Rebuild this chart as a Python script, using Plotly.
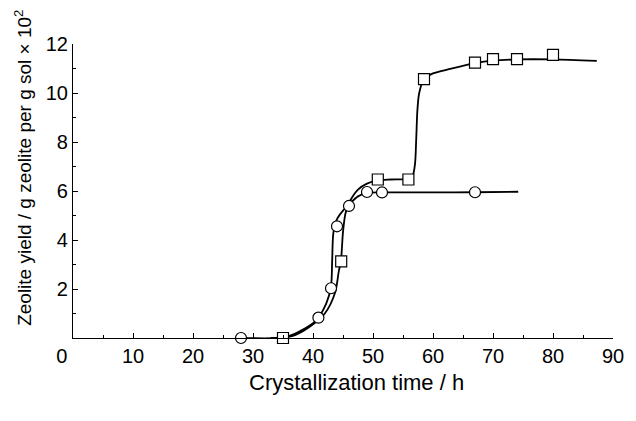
import plotly.graph_objects as go

sq_x = [35, 44.7, 50.8, 55.9, 58.5, 67, 70, 74, 80]
sq_y = [0.0, 3.13, 6.47, 6.47, 10.57, 11.24, 11.38, 11.38, 11.56]
ci_x = [28, 40.9, 43.0, 44.0, 46.0, 49.0, 51.5, 67]
ci_y = [0.0, 0.83, 2.03, 4.56, 5.39, 5.96, 5.94, 5.95]

# Fitted curves
sq_cx = [33, 35, 37, 39.8, 42.0, 43.7, 44.3, 44.65, 45.0, 45.4, 46.1, 47.5, 49.0, 50.75, 53, 55.9, 56.6, 57.0, 57.2, 57.4, 57.7, 58.5, 60, 62.8, 67, 70, 74, 80, 87.3]
sq_cy = [0.0, 0.02, 0.12, 0.52, 1.01, 1.87, 2.73, 3.13, 4.33, 5.07, 5.56, 6.06, 6.3, 6.43, 6.47, 6.5, 6.62, 7.1, 8.1, 9.3, 10.0, 10.57, 10.8, 10.98, 11.22, 11.32, 11.37, 11.37, 11.31]
ci_cx = [28, 34, 36, 38, 40, 40.9, 42.2, 43.0, 43.2, 43.4, 44.0, 45.0, 46.0, 47.5, 49.0, 52, 60, 67, 74.2]
ci_cy = [0.0, 0.0, 0.08, 0.3, 0.6, 0.83, 1.4, 2.1, 3.2, 4.3, 4.85, 5.2, 5.45, 5.78, 5.92, 5.94, 5.94, 5.95, 5.97]

x_ticks = [0, 10, 20, 30, 40, 50, 60, 70, 80, 90]
x_labels = ["0\u2007\u2007", "10", "20", "30", "40", "50", "60", "70", "80", "90"]
y_ticks = [2, 4, 6, 8, 10, 12]

FONT = "Liberation Sans, Arial, sans-serif"
fig = go.Figure()
line = dict(color="black", width=1.8, shape="spline", smoothing=0.8)
fig.add_trace(go.Scatter(x=ci_cx, y=ci_cy, mode="lines", line=line, cliponaxis=False, hoverinfo="skip"))
fig.add_trace(go.Scatter(x=sq_cx, y=sq_cy, mode="lines", line=line, cliponaxis=False, hoverinfo="skip"))
fig.add_trace(go.Scatter(x=ci_x, y=ci_y, mode="markers", cliponaxis=False,
                         marker=dict(symbol="circle", size=11, color="white", line=dict(color="black", width=1.2))))
fig.add_trace(go.Scatter(x=sq_x, y=sq_y, mode="markers", cliponaxis=False,
                         marker=dict(symbol="square", size=11, color="white", line=dict(color="black", width=1.2))))

# page body adds an 8px offset; figure sized to fit the 636x421 window
fig.update_layout(
    width=628, height=413,
    margin=dict(l=65, r=13, t=36, b=83),
    paper_bgcolor="white", plot_bgcolor="white",
    showlegend=False,
    font=dict(family=FONT, size=20, color="black"),
    xaxis=dict(range=[0, 90], tickvals=x_ticks, ticktext=x_labels,
               showline=True, linecolor="black", linewidth=1.2, ticks="inside", ticklen=5,
               tickcolor="black", showgrid=False, zeroline=False,
               minor=dict(dtick=5, tick0=0, ticks="inside", ticklen=3, tickcolor="black"),
               tickfont=dict(size=20)),
    yaxis=dict(range=[0, 12], tickvals=y_ticks, ticktext=[str(v) for v in y_ticks],
               showline=True, linecolor="black", linewidth=1.2, ticks="inside", ticklen=5,
               tickcolor="black", showgrid=False, zeroline=False,
               minor=dict(dtick=1, tick0=0, ticks="inside", ticklen=3, tickcolor="black"),
               tickfont=dict(size=20)),
    annotations=[
        dict(text="Crystallization time / h", x=0.525, y=-0.1497, xref="paper", yref="paper",
             showarrow=False, font=dict(size=22), xanchor="center", yanchor="middle"),
        dict(text="Zeolite yield / g zeolite per g sol × 10<sup>2</sup>", x=-0.093, y=0.578,
             xref="paper", yref="paper", showarrow=False, textangle=-90,
             font=dict(size=19), xanchor="center", yanchor="middle"),
    ],
)

fig.write_html("out.html")
